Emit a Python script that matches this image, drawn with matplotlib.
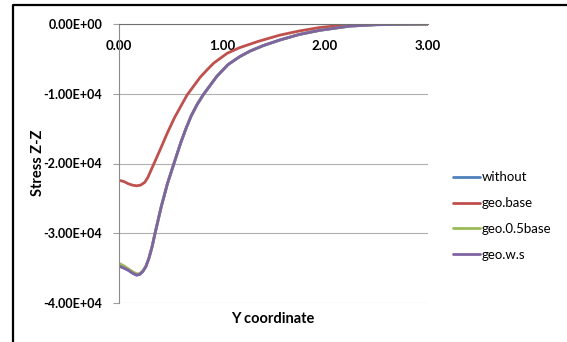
import matplotlib.pyplot as plt
from matplotlib.lines import Line2D

plt.rcParams['font.family'] = ['Lato', 'DejaVu Sans']

# values (stress vs Y coordinate)
x_red = [0.0, 0.05, 0.09, 0.13, 0.17, 0.21, 0.25, 0.28, 0.31, 0.34, 0.40, 0.47, 0.54,
         0.60, 0.66, 0.73, 0.79, 0.86, 0.92, 1.05, 1.17, 1.35, 1.56, 1.75, 1.95, 2.20,
         2.50, 3.00]
geo_base = [-22400, -22600, -22900, -23100, -23200, -23100, -22700, -22000, -21000, -20000,
            -18000, -15600, -13400, -11800, -10200, -8800, -7600, -6500, -5600, -4200,
            -3400, -2500, -1600, -1000, -500, -150, 0, 0]

x_pur = [0.0, 0.05, 0.09, 0.13, 0.17, 0.20, 0.23, 0.26, 0.29, 0.32, 0.35, 0.41, 0.47,
         0.54, 0.60, 0.65, 0.70, 0.76, 0.82, 0.89, 0.95, 1.06, 1.17, 1.27, 1.40, 1.56,
         1.75, 1.95, 2.24, 2.50, 3.00]
geo_ws = [-34700, -35000, -35300, -35700, -36000, -35900, -35500, -34800, -33600, -32000,
          -30000, -26200, -22900, -19700, -17000, -15000, -13200, -11500, -10100, -8700,
          -7500, -5800, -4700, -3900, -3100, -2300, -1500, -900, -300, -100, 0]
without = [-34700, -35000, -35300, -35700, -36000, -35900, -35500, -34800, -33600, -32000,
           -30000, -26200, -22900, -19700, -17000, -15000, -13200, -11500, -10100, -8700,
           -7500, -5800, -4700, -3900, -3100, -2300, -1500, -900, -300, -100, 0]
geo_05base = [-34300, -34700, -35100, -35500, -35800, -35800, -35400, -34800, -33600, -32000,
              -30000, -26200, -22900, -19700, -17000, -15000, -13200, -11500, -10100, -8700,
              -7500, -5800, -4700, -3900, -3100, -2300, -1500, -900, -300, -100, 0]

y_ticks = [0, -10000, -20000, -30000, -40000]
y_labels = ["0.00E+00", "-1.00E+04", "-2.00E+04", "-3.00E+04", "-4.00E+04"]
x_ticks = [0, 1, 2, 3]
x_labels = ["0.00", "1.00", "2.00", "3.00"]

fig = plt.figure(figsize=(5.67, 3.42), dpi=100)
ax = fig.add_axes([119/567, 1 - 303/342, (428 - 119)/567, (303 - 24)/342])

kw = dict(lw=2.0, solid_joinstyle="round", solid_capstyle="round")
ax.plot(x_pur, without, color="#4F81BD", label="without", **kw)
ax.plot(x_red, geo_base, color="#C0504D", label="geo.base", **kw)
ax.plot(x_pur, geo_05base, color="#9BBB59", label="geo.0.5base", **kw)
ax.plot(x_pur, geo_ws, color="#8064A2", label="geo.w.s", **kw)

ax.set_xlim(0, 3)
ax.set_ylim(-40000, 0)
ax.set_yticks(y_ticks)
ax.set_yticklabels(y_labels, fontweight="bold", fontsize=9)
ax.set_xticks(x_ticks)
ax.set_xticklabels(x_labels, fontweight="bold", fontsize=9.5)
ax.xaxis.set_ticks_position("top")
ax.tick_params(axis="x", length=0, pad=-20)
ax.tick_params(axis="y", length=4, color="#A0A0A0", pad=8)
ax.grid(axis="y", color="#B0B0B0", lw=0.8)
ax.set_axisbelow(True)

for s in ["right", "bottom"]:
    ax.spines[s].set_visible(False)
ax.spines["left"].set_color("#8C8C8C")
ax.spines["top"].set_color("#707070")

fig.text(38/567, 1 - 163/342, "Stress Z-Z", rotation=90, ha="center", va="center",
         fontweight="bold", fontsize=10.5)
fig.text(273/567, 1 - 319/342, "Y coordinate", ha="center", va="center",
         fontweight="bold", fontsize=10.5)

ax.legend(loc="upper left", bbox_to_anchor=(448/567, 1 - 166/342), bbox_transform=fig.transFigure,
          frameon=False, fontsize=9.5, handlelength=2.0, handletextpad=0.15, labelspacing=1.05,
          borderaxespad=0)

# outer frame (left and top edge visible)
fig.add_artist(Line2D([13/567, 13/567, 1], [0, 1 - 5/342, 1 - 5/342],
                      transform=fig.transFigure, color="black", lw=1.6))

fig.savefig("out.png", dpi=100)
